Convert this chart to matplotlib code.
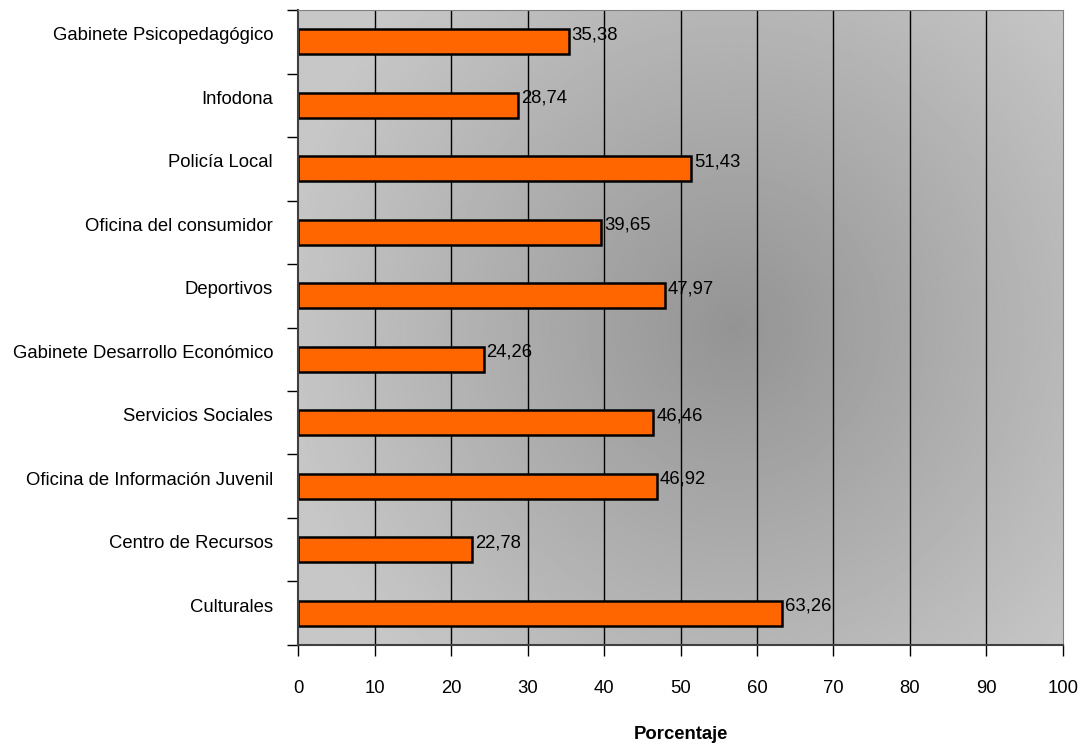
import numpy as np
import matplotlib.pyplot as plt
from matplotlib.transforms import ScaledTranslation

categories = ["Gabinete Psicopedagógico", "Infodona", "Policía Local",
              "Oficina del consumidor", "Deportivos",
              "Gabinete Desarrollo Económico", "Servicios Sociales",
              "Oficina de Información Juvenil", "Centro de Recursos",
              "Culturales"]
values = [35.38, 28.74, 51.43, 39.65, 47.97, 24.26, 46.46, 46.92, 22.78, 63.26]
value_labels = ["35,38", "28,74", "51,43", "39,65", "47,97",
                "24,26", "46,46", "46,92", "22,78", "63,26"]

plt.rcParams["font.family"] = ["Liberation Sans", "DejaVu Sans"]
FS = 13.3

fig = plt.figure(figsize=(10.83, 7.49), dpi=100)
ax = fig.add_axes([0.2752, 0.1389, 0.7063, 0.8477])

n = len(categories)
y = np.arange(n)[::-1]

# radial grey background
gx, gy = np.meshgrid(np.linspace(0, 1, 400), np.linspace(0, 1, 300))
d = np.sqrt(((gx - 0.57) / 0.6) ** 2 + ((gy - 0.5) / 0.75) ** 2)
shade = 0.58 + (0.78 - 0.58) * np.clip(d, 0, 1)
ax.imshow(shade, cmap="gray", vmin=0, vmax=1, extent=[0, 100, -0.5, n - 0.5],
          aspect="auto", origin="lower", zorder=0, interpolation="bilinear")

for xv in range(10, 100, 10):
    ax.axvline(xv, color="black", lw=1, zorder=1)

ax.barh(y, values, height=0.4, color="#FF6600", edgecolor="black",
        linewidth=1.8, zorder=2)
for yi, v, lab in zip(y, values, value_labels):
    ax.annotate(lab, (v, yi), xytext=(2, 5), textcoords="offset points",
                ha="left", va="center", fontsize=FS, zorder=3)

ax.set_xlim(0, 100)
ax.set_ylim(-0.5, n - 0.5)
ax.set_xticks(range(0, 101, 10))
ax.set_xticklabels([str(t) for t in range(0, 101, 10)], fontsize=FS)
ax.set_yticks(np.arange(-0.5, n, 1))
ax.set_yticklabels([])
ax.set_yticks(y, minor=True)
ax.set_yticklabels(categories, minor=True, fontsize=FS)
ax.tick_params(axis="y", which="minor", length=0, pad=18)
ax.tick_params(axis="y", which="major", length=8, width=1, direction="out")
ax.tick_params(axis="x", length=8, width=1, direction="out", pad=17)
shift = ScaledTranslation(0, 8 / 100, fig.dpi_scale_trans)
for lab in ax.get_yticklabels(minor=True):
    lab.set_transform(lab.get_transform() + shift)
for side in ["top", "right"]:
    ax.spines[side].set_color("#808080")
for side in ["left", "bottom"]:
    ax.spines[side].set_color("#404040")
    ax.spines[side].set_linewidth(1.5)

ax.set_xlabel("Porcentaje", fontsize=FS, fontweight="bold", labelpad=21)

fig.savefig("out.png", dpi=100)
